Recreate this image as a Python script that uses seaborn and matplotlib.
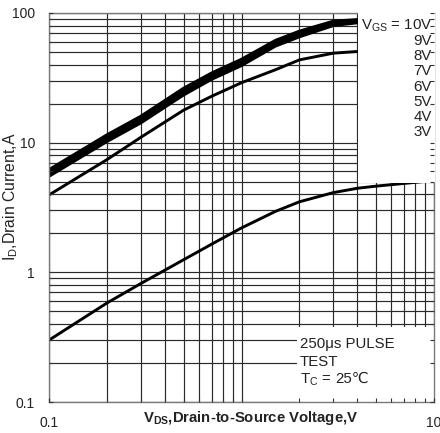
import matplotlib
matplotlib.use("Agg")
import matplotlib.pyplot as plt
from matplotlib.patches import Rectangle
from matplotlib.ticker import LogLocator, NullFormatter, FixedLocator, FixedFormatter
import numpy as np
import pandas as pd
import seaborn as sns

plt.rcParams["font.family"] = ["Liberation Sans", "DejaVu Sans"]
plt.rcParams["mathtext.fontset"] = "custom"
plt.rcParams["mathtext.rm"] = "Liberation Sans"
plt.rcParams["mathtext.it"] = "Liberation Sans:italic"
plt.rcParams["mathtext.bf"] = "Liberation Sans:bold"

# Drain-source voltage sample points (V)
vds = [0.1, 0.2, 0.3, 0.5, 0.7, 1.0, 1.5, 2.0, 3.0, 4.0, 5.0, 7.0, 10.0]

# Drain current (A) for each gate-source voltage
id_10v = [6.2, 11.5, 16.0, 26.3, 34.5, 44.0, 61.5, 72.5, 86.5, 89.0, 89.5, 90.0, 90.5]
id_9v = [6.0, 11.2, 15.6, 25.6, 33.8, 43.0, 60.5, 71.5, 85.5, 88.0, 88.5, 89.0, 89.5]
id_8v = [5.9, 11.0, 15.3, 25.1, 33.2, 42.3, 59.5, 70.5, 84.5, 87.0, 87.5, 88.0, 88.5]
id_7v = [5.8, 10.8, 15.0, 24.6, 32.5, 41.5, 58.5, 69.0, 83.0, 86.0, 86.5, 87.0, 87.5]
id_6v = [5.65, 10.5, 14.6, 24.0, 31.7, 40.5, 57.0, 67.5, 81.5, 85.0, 85.5, 86.0, 86.5]
id_5v = [5.5, 10.2, 14.2, 23.3, 30.8, 39.3, 55.5, 65.5, 80.0, 84.0, 84.5, 85.0, 85.5]
id_4v = [3.95, 7.4, 11.0, 17.8, 22.8, 29.0, 36.5, 43.5, 49.0, 50.5, 51.0, 51.5, 52.0]
id_3v = [0.30, 0.58, 0.82, 1.25, 1.65, 2.2, 2.95, 3.5, 4.12, 4.45, 4.62, 4.85, 5.1]

vgs_labels = ["$\\mathregular{V_{GS}}$ = 10V", "9V", "8V", "7V", "6V", "5V", "4V", "3V"]
curves = [id_10v, id_9v, id_8v, id_7v, id_6v, id_5v, id_4v, id_3v]
vgs_names = ["10V", "9V", "8V", "7V", "6V", "5V", "4V", "3V"]

x_ticks = [0.1, 1, 10]
x_tick_labels = ["0.1", "", "10"]
y_ticks = [0.1, 1, 10, 100]
y_tick_labels = ["0.1", "1", "10", "100"]

note_lines = ["250\u03bcs PULSE", "TEST", "T$\\mathregular{_C}$ ="]
temp_value = "25\u2103"

frames = []
for name, cur in zip(vgs_names, curves):
    frames.append(pd.DataFrame({"VDS": vds, "ID": cur, "VGS": name}))
df = pd.concat(frames, ignore_index=True)

fig = plt.figure(figsize=(4.40, 4.33), dpi=100)
W, H = 440, 433
left, right, top, bottom = 49, 434, 13, 402
rect = [left / W, 1 - bottom / H, (right - left) / W, (bottom - top) / H]
ax = fig.add_axes(rect)

ax.set_xscale("log")
ax.set_yscale("log")
ax.set_xlim(0.1, 10)
ax.set_ylim(0.1, 100)

sns.lineplot(data=df, x="VDS", y="ID", hue="VGS", units="VGS", estimator=None,
             palette=["black"] * len(vgs_names), linewidth=2.1, legend=False,
             sort=True, ax=ax, zorder=2)

ax.set_axisbelow(True)
ax.xaxis.set_minor_locator(LogLocator(base=10, subs=np.arange(2, 10)))
ax.yaxis.set_minor_locator(LogLocator(base=10, subs=np.arange(2, 10)))
ax.xaxis.set_minor_formatter(NullFormatter())
ax.yaxis.set_minor_formatter(NullFormatter())
ax.xaxis.set_major_locator(FixedLocator(x_ticks))
ax.xaxis.set_major_formatter(FixedFormatter(x_tick_labels))
ax.yaxis.set_major_locator(FixedLocator(y_ticks))
ax.yaxis.set_major_formatter(FixedFormatter(y_tick_labels))
ax.grid(True, which="both", color="#2a2a2a", linewidth=0.85)
ax.tick_params(which="both", length=0)
ax.tick_params(axis="x", which="major", pad=10, labelsize=10, labelcolor="#222222")
ax.tick_params(axis="y", which="major", pad=10, labelsize=10, labelcolor="#222222")
for sp in ax.spines.values():
    sp.set_color("#7a7a7a")
    sp.set_linewidth(1.0)

ax.set_xlabel("$\\mathregular{V_{DS}}$,Drain-to-Source Voltage,V", fontsize=10.7,
              fontweight="bold", color="#222222")
ax.set_ylabel("$\\mathregular{I_{D}}$,Drain Current,A", fontsize=11.3, color="#222222")
ax.xaxis.set_label_coords(0.525, -0.019)
ax.yaxis.set_label_coords(-0.075, 0.527)

# white panels behind the annotations
ax.add_patch(Rectangle((0.803, 0.563), 0.2, 0.44, transform=ax.transAxes,
                       facecolor="white", edgecolor="none", zorder=3, clip_on=False))
ax.add_patch(Rectangle((0.644, 0.0), 0.356, 0.193, transform=ax.transAxes,
                       facecolor="white", edgecolor="none", zorder=1.8))

for i, lab in enumerate(vgs_labels):
    ax.text(0.995, 0.968 - i * 0.0393, lab, transform=ax.transAxes, ha="right",
            va="center", fontsize=10.8, color="#222222", zorder=4)

note_texts = []
for i, line in enumerate(note_lines):
    t = ax.text(0.652, 0.138 - i * 0.045, line, transform=ax.transAxes, ha="left",
                va="baseline", fontsize=10.8, color="#222222", zorder=4)
    note_texts.append(t)

# case temperature value set right after "T_C ="
last = note_texts[-1]
fig.canvas.draw()
bb = last.get_window_extent()
inv = ax.transAxes.inverted()
x_end = inv.transform((bb.x1, bb.y0))[0]
ax.text(x_end + 0.009, 0.138 - 2 * 0.045, temp_value, transform=ax.transAxes,
        ha="left", va="baseline", fontsize=10.8, color="#222222", zorder=4,
        family=["Liberation Sans", "DejaVu Sans"])

# overlay axes carrying the inward tick marks
ax2 = fig.add_axes(rect, sharex=ax, sharey=ax)
ax2.patch.set_visible(False)
for sp in ax2.spines.values():
    sp.set_visible(False)
ax2.tick_params(which="both", direction="in", length=3, width=0.8, color="#333333",
                bottom=True, right=True, left=True, top=False,
                labelbottom=False, labelleft=False)

fig.savefig("out.png", dpi=100)
